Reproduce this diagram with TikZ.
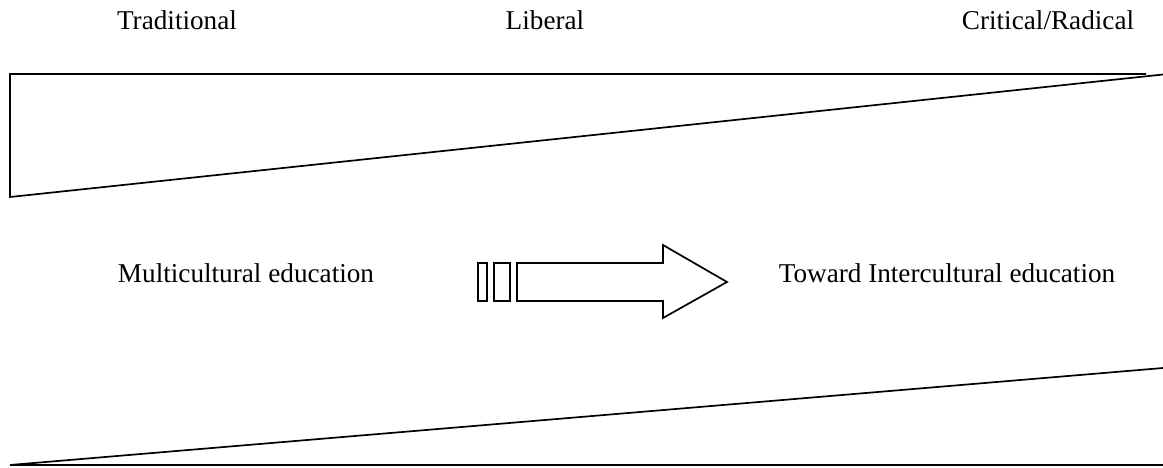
\documentclass[tikz,border=0pt]{standalone}
\usepackage{fontspec}
\setmainfont{Liberation Serif}
\begin{document}
\begin{tikzpicture}[x=1pt,y=-1pt,
  shape line/.style={draw=black,line width=1.7pt,line join=miter},
  lbl/.style={font=\fontsize{27.2}{31}\selectfont,inner sep=0pt,anchor=base}]
\useasboundingbox[fill=white] (0,0) rectangle (1163,468);
% labels
\node[lbl] (trad) at (177,30) {Traditional};
\node[lbl] (lib) at (545,30) {Liberal};
\node[lbl] (crit) at (1048,30) {Critical/Radical};
\node[lbl] (multi) at (246,282) {Multicultural education};
\node[lbl] (toward) at (947,282) {Toward Intercultural education};
% top wedge
\coordinate (tl) at (10,74);
\coordinate (tr) at (1146,74);
\coordinate (bl) at (10,197);
\coordinate (te) at (1163,74.5);
\draw[shape line] (tr) -- (tl) -- (bl) -- (te);
% bottom wedge
\coordinate (bbl) at (10,465);
\coordinate (bbr) at (1163,465);
\coordinate (bte) at (1163,368);
\draw[shape line] (bbr) -- (bbl) -- (bte);
% arrow
\draw[shape line] (478,263) rectangle (487,301);
\draw[shape line] (494,263) rectangle (510,301);
\draw[shape line] (517,263) -- (663,263) -- (663,245) -- (727,282) -- (663,318) -- (663,301) -- (517,301) -- cycle;
\end{tikzpicture}
\end{document}
